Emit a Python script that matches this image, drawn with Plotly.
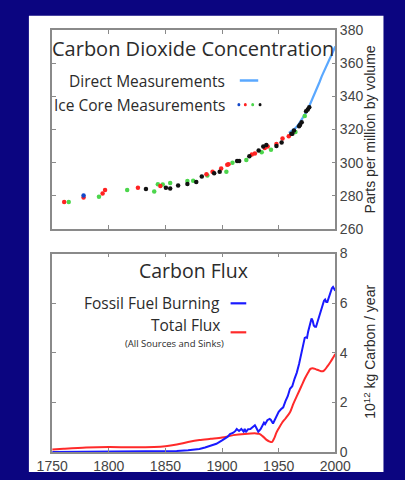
import plotly.graph_objects as go

# ---------------- data ----------------
# Ice-core CO2 (ppm), grouped by marker colour
ice_blue_year = [1777.7]
ice_blue_ppm = [280.2]

ice_red_year = [1760.6, 1777.7, 1794.5, 1796.7, 1825.7, 1845.5, 1886.2, 1891.6, 1899.2,
                1904.6, 1905.7, 1926.3, 1929.0, 1937.7, 1940.3, 1948.0, 1953.4, 1958.9]
ice_red_ppm = [276.3, 279.1, 281.4, 283.5, 284.9, 285.9, 293.0, 294.6, 296.5,
               298.7, 299.0, 304.9, 305.5, 308.8, 309.7, 311.3, 314.6, 316.0]

ice_green_year = [1764.6, 1791.3, 1816.2, 1840.1, 1843.3, 1847.6, 1854.2, 1869.4, 1874.5,
                  1887.0, 1903.8, 1909.2, 1921.4, 1935.0, 1943.2, 1964.8, 1973.0]
ice_green_ppm = [276.3, 279.5, 283.5, 282.7, 287.0, 286.8, 287.8, 288.9, 289.1,
                 292.3, 294.6, 300.0, 301.6, 306.3, 307.8, 318.5, 328.2]

ice_black_year = [1832.8, 1850.4, 1854.2, 1861.2, 1869.4, 1877.2, 1882.1, 1893.0, 1897.9,
                  1913.3, 1915.1, 1924.1, 1932.3, 1936.4, 1939.1, 1948.0, 1952.6, 1961.2,
                  1962.1, 1963.5, 1968.0, 1968.9, 1970.3, 1974.2, 1975.7, 1977.0]
ice_black_ppm = [284.1, 284.9, 284.5, 286.2, 287.2, 288.4, 291.7, 293.6, 294.6,
                 301.0, 301.0, 303.9, 307.4, 309.8, 310.7, 310.0, 312.1, 317.5,
                 317.5, 319.4, 322.0, 322.9, 324.3, 331.0, 332.1, 333.4]

# Direct (atmospheric) measurements, ppm
direct_year = [1959, 1962, 1965, 1968, 1970, 1972, 1974, 1976, 1978, 1980, 1982, 1984,
               1986, 1988, 1990, 1992, 1994, 1996, 1998, 2000]
direct_ppm = [318.0, 319.5, 321.0, 323.5, 325.5, 327.5, 330.0, 332.5, 335.5, 339.0, 342.0, 345.0,
              348.5, 352.0, 355.0, 358.5, 361.5, 364.0, 366.5, 370.0]

# Fossil fuel burning, 10^12 kg C / yr
fossil_year = [1750, 1800, 1830, 1850, 1860, 1870, 1880, 1885, 1890, 1895, 1900, 1903, 1905,
               1907, 1910, 1912, 1913, 1915, 1917, 1919, 1920, 1921, 1923, 1925, 1927, 1929,
               1930, 1932, 1934, 1936, 1937, 1938, 1940, 1942, 1943, 1945, 1946, 1948, 1950,
               1952, 1954, 1956, 1958, 1960, 1962, 1964, 1966, 1968, 1970, 1972, 1973, 1974,
               1975, 1976, 1977, 1979, 1980, 1981, 1982, 1983, 1984, 1986, 1988, 1990, 1991,
               1992, 1993, 1994, 1996, 1997, 1998, 1999, 2000]
fossil_flux = [0.0, 0.005, 0.01, 0.02, 0.04, 0.07, 0.12, 0.18, 0.25, 0.33, 0.47, 0.55, 0.62,
               0.72, 0.78, 0.86, 0.93, 0.85, 0.93, 0.82, 0.93, 0.80, 0.92, 0.93, 1.00, 1.08,
               1.00, 0.82, 0.92, 1.08, 1.18, 1.12, 1.28, 1.33, 1.30, 1.15, 1.25, 1.45, 1.62,
               1.72, 1.80, 2.05, 2.25, 2.55, 2.65, 2.95, 3.20, 3.55, 4.00, 4.35, 4.60, 4.62,
               4.60, 4.85, 5.00, 5.38, 5.30, 5.10, 5.05, 5.05, 5.20, 5.50, 5.85, 6.10, 6.15,
               6.05, 6.05, 6.20, 6.45, 6.60, 6.65, 6.55, 6.50]

# Total flux (all sources and sinks), 10^12 kg C / yr
total_year = [1750, 1760, 1780, 1800, 1820, 1840, 1850, 1860, 1870, 1880, 1890, 1900, 1910,
              1920, 1930, 1933, 1936, 1939, 1942, 1944, 1946, 1948, 1950, 1953, 1956, 1960,
              1963, 1966, 1970, 1973, 1976, 1978, 1980, 1983, 1986, 1988, 1990, 1993, 1996,
              1998, 2000]
total_flux = [0.10, 0.13, 0.18, 0.20, 0.19, 0.20, 0.23, 0.30, 0.40, 0.48, 0.53, 0.58, 0.68,
              0.73, 0.75, 0.73, 0.63, 0.50, 0.42, 0.40, 0.55, 0.78, 0.95, 1.18, 1.35, 1.60,
              1.95, 2.25, 2.65, 2.95, 3.20, 3.35, 3.38, 3.33, 3.28, 3.25, 3.28, 3.45, 3.65,
              3.80, 3.95]

year_ticks = [1750, 1800, 1850, 1900, 1950, 2000]
ppm_ticks = [260, 280, 300, 320, 340, 360, 380]
flux_ticks = [0, 2, 4, 6, 8]

# ---------------- styling ----------------
W, H = 405, 480
NAVY = "#0b0580"
FRAME = "#8a8a8a"
TEXT = "#2b2b2b"
TICKFONT = dict(family="Liberation Sans, Arial", size=14, color="#444444")
LABELFONT = "Open Sans, Noto Sans, sans-serif"


def px(x):
    return x / W


def py(y):
    return 1 - y / H


fig = go.Figure()

dot = dict(size=4.5, line=dict(width=0))
fig.add_trace(go.Scatter(x=direct_year, y=direct_ppm, mode="lines",
                         line=dict(color="#5aa8ff", width=2.2), xaxis="x", yaxis="y"))
for yrs, vals, col in [(ice_green_year, ice_green_ppm, "#4cd64c"),
                       (ice_red_year, ice_red_ppm, "#ff2222"),
                       (ice_black_year, ice_black_ppm, "#111111"),
                       (ice_blue_year, ice_blue_ppm, "#1448c8")]:
    fig.add_trace(go.Scatter(x=yrs, y=vals, mode="markers",
                             marker=dict(color=col, **dot), xaxis="x", yaxis="y"))

fig.add_trace(go.Scatter(x=total_year, y=total_flux, mode="lines",
                         line=dict(color="#ff2a2a", width=2, shape="spline", smoothing=0.8),
                         xaxis="x2", yaxis="y2"))
fig.add_trace(go.Scatter(x=fossil_year, y=fossil_flux, mode="lines",
                         line=dict(color="#1a1aff", width=2), xaxis="x2", yaxis="y2"))

xdom = [px(39.3), px(346.7)]
axis_common = dict(showgrid=False, zeroline=False, showline=True, linecolor=FRAME,
                   linewidth=1.5, mirror="ticks", ticks="inside", ticklen=4,
                   tickcolor=FRAME, tickwidth=1, tickfont=TICKFONT)

fig.update_layout(
    width=W, height=H, margin=dict(l=0, r=0, t=0, b=0),
    paper_bgcolor=NAVY, plot_bgcolor="#ebebeb", showlegend=False,
    xaxis=dict(domain=xdom, range=[1750, 2000], tickvals=year_ticks,
               showticklabels=False, anchor="y", **axis_common),
    yaxis=dict(domain=[py(228.7), py(22.7)], range=[260, 380], tickvals=ppm_ticks,
               side="right", anchor="x", **axis_common),
    xaxis2=dict(domain=xdom, range=[1750, 2000], tickvals=year_ticks,
                anchor="y2", **axis_common),
    yaxis2=dict(domain=[py(459.3), py(254)], range=[0, 8], tickvals=flux_ticks,
                side="right", anchor="x2", **axis_common),
)

shapes = [dict(type="rect", xref="paper", yref="paper", x0=px(14), x1=px(399),
               y0=0, y1=py(8), fillcolor="white", line=dict(width=0), layer="below")]

# legend key samples
shapes.append(dict(type="line", xref="paper", yref="paper", x0=px(243), x1=px(263),
                   y0=py(75), y1=py(75), line=dict(color="#5aa8ff", width=2.5)))
for cx, col in [(242, "#1448c8"), (249, "#ff2222"), (257, "#4cd64c"), (265, "#111111")]:
    shapes.append(dict(type="circle", xref="paper", yref="paper",
                       x0=px(cx - 1.6), x1=px(cx + 1.6), y0=py(100 + 1.6), y1=py(100 - 1.6),
                       fillcolor=col, line=dict(width=0)))
shapes.append(dict(type="line", xref="paper", yref="paper", x0=px(233), x1=px(250),
                   y0=py(305.5), y1=py(305.5), line=dict(color="#1a1aff", width=2.2)))
shapes.append(dict(type="line", xref="paper", yref="paper", x0=px(233), x1=px(250),
                   y0=py(335.5), y1=py(335.5), line=dict(color="#ff2a2a", width=2.2)))
fig.update_layout(shapes=shapes)


def label(text, x, y, size, xanchor="right", angle=0, family=LABELFONT):
    fig.add_annotation(text=text, x=px(x), y=py(y), xref="paper", yref="paper",
                       xanchor=xanchor, yanchor="middle", showarrow=False, textangle=angle,
                       font=dict(family=family, size=size, color=TEXT))


label("Carbon Dioxide Concentration", 192, 42, 20, xanchor="center")
label("Direct Measurements", 229, 75, 15.5)
label("Ice Core Measurements", 229, 100, 15.5)
label("Carbon Flux", 193, 272, 19.5, xanchor="center")
label("Fossil Fuel Burning", 224, 305, 15.5)
label("Total Flux", 224, 328, 15.5)
label("(All Sources and Sinks)", 228, 347, 9.5)
label("Parts per million by volume", 384, 126, 14, xanchor="center", angle=-90,
      family="Liberation Sans, Arial")
label("10<sup>12</sup> kg Carbon / year", 384, 356, 14, xanchor="center", angle=-90,
      family="Liberation Sans, Arial")

# the page's default body margin would offset the fixed-size figure
fig.write_html("out.html", post_script="document.body.style.margin='0px';")
